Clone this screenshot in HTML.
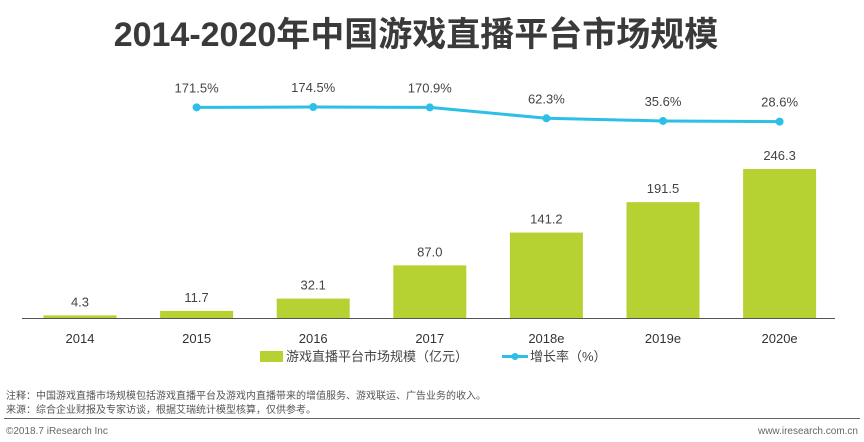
<!DOCTYPE html>
<html><head><meta charset="utf-8"><style>
body{margin:0;background:#fff;width:864px;height:442px;overflow:hidden;font-family:"Liberation Sans","Noto Sans CJK SC",sans-serif;}
</style></head><body>
<svg width="864" height="442" style="position:absolute;left:0;top:0">
<text x="416" y="46" text-anchor="middle" font-size="34" font-weight="bold" fill="#3a3a3a" font-family="Liberation Sans,Noto Sans CJK SC,sans-serif">2014-2020年中国游戏直播平台市场规模</text>
<line x1="22" y1="318.5" x2="835" y2="318.5" stroke="#555" stroke-width="1"/>
<g id="bars"></g><g id="line"></g>
<g>
<rect x="260" y="351" width="23" height="11" fill="#b5d132"/>
<text x="286" y="361" font-size="13" fill="#444">游戏直播平台市场规模（亿元）</text>
<line x1="502" y1="356.5" x2="528" y2="356.5" stroke="#2dbfe6" stroke-width="3"/>
<circle cx="515" cy="356.5" r="3.5" fill="#2dbfe6"/>
<text x="530" y="361" font-size="13" fill="#444">增长率（%）</text>
</g>
<text x="6" y="399" font-size="10" fill="#555">注释：中国游戏直播市场规模包括游戏直播平台及游戏内直播带来的增值服务、游戏联运、广告业务的收入。</text>
<text x="6" y="413" font-size="10" fill="#555">来源：综合企业财报及专家访谈，根据艾瑞统计模型核算，仅供参考。</text>
<line x1="4" y1="418.5" x2="860" y2="418.5" stroke="#666" stroke-width="1"/>
<text x="6" y="434" font-size="10" fill="#666">©2018.7 iResearch Inc</text>
<text x="858" y="434" font-size="10" fill="#666" text-anchor="end">www.iresearch.com.cn</text>
</svg>
<script>
const categories=["2014","2015","2016","2017","2018e","2019e","2020e"];
const marketSize=[4.3,11.7,32.1,87.0,141.2,191.5,246.3];
const growthRate=[null,171.5,174.5,170.9,62.3,35.6,28.6];
const NS="http://www.w3.org/2000/svg";
function xPos(i){return 80+i*116.6;}
function yBar(v){return 318-v*0.605;}
function yLine(v){return 124.5-v*0.1;}
function mk(tag,attrs,parent){const e=document.createElementNS(NS,tag);for(const k in attrs)e.setAttribute(k,attrs[k]);parent.appendChild(e);return e;}
const bars=document.getElementById('bars');
categories.forEach((c,i)=>{
 const v=marketSize[i];
 const r=mk('rect',{x:xPos(i)-36.5,y:yBar(v),width:73,height:318-yBar(v),fill:'#b5d132'},bars);
 
 
 const t=mk('text',{x:xPos(i),y:yBar(v)-9,'text-anchor':'middle','font-size':13,fill:'#444'},bars);
 t.textContent=v.toFixed(1);
 
 
 const xl=mk('text',{x:xPos(i),y:343,'text-anchor':'middle','font-size':13,fill:'#333'},bars);
 xl.textContent=c;
 
 
});
const lg=document.getElementById('line');
let pts=[];
growthRate.forEach((v,i)=>{if(v!==null)pts.push([xPos(i),yLine(v),v,i]);});
const pl=mk('polyline',{points:pts.map(p=>p[0]+','+p[1]).join(' '),fill:'none',stroke:'#2dbfe6','stroke-width':3},lg);


pts.forEach(p=>{
 const c=mk('circle',{cx:p[0],cy:p[1],r:4,fill:'#2dbfe6'},lg);
 
 
 const t=mk('text',{x:p[0],y:p[1]-15,'text-anchor':'middle','font-size':13,fill:'#444'},lg);
 t.textContent=p[2].toFixed(1)+'%';
 
 
});
</script>
</body></html>
